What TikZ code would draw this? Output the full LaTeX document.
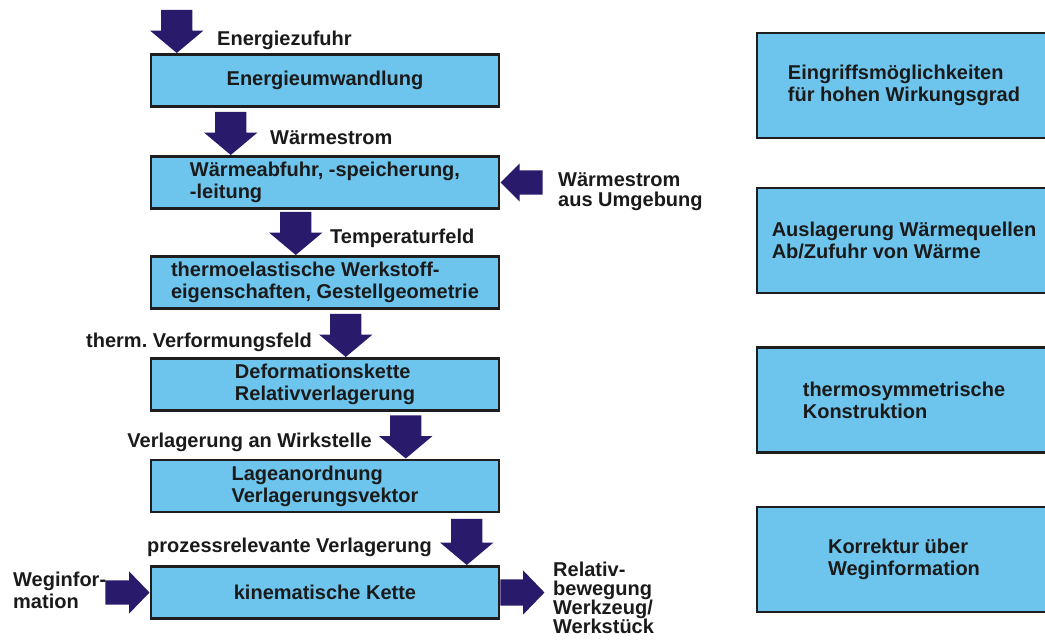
\documentclass[tikz,border=0pt]{standalone}
\usepackage{fontspec}
\setmainfont{Liberation Sans}
\usetikzlibrary{shapes.arrows,calc}
\definecolor{boxfill}{RGB}{109,197,238}
\definecolor{boxline}{RGB}{30,30,30}
\definecolor{arrowc}{RGB}{42,26,108}
\definecolor{txt}{RGB}{26,26,26}
\frenchspacing
\begin{document}
\begin{tikzpicture}[x=1pt,y=-1pt,
  every node/.style={font=\bfseries\fontsize{20}{22}\selectfont, text=txt},
  lbox/.style={draw=boxline, line width=2.5pt, fill=boxfill, minimum width=348, minimum height=52, align=left, inner sep=0},
  rbox/.style={draw=boxline, line width=2.5pt, fill=boxfill, minimum width=294, minimum height=105, align=left, inner sep=0},
  varrow/.style={single arrow, fill=arrowc, draw=none, inner xsep=0, inner ysep=15.5, minimum width=53, minimum height=43, single arrow head extend=11, single arrow tip angle=100, rotate=-90, anchor=tip},
  harrow/.style={single arrow, fill=arrowc, draw=none, inner xsep=0, inner ysep=12, minimum width=42, minimum height=44, single arrow head extend=9, single arrow tip angle=92},
  lbl/.style={inner sep=0, align=left},
  slbl/.style={inner sep=0}
]
\useasboundingbox (0,0) rectangle (1045,642);

% left chain boxes
\node[lbox] (b1) at (325,80.5) {Energieumwandlung};
\node[lbox] (b2) at (325,182.5) {Wärmeabfuhr, -speicherung,\\-leitung};
\node[lbox] (b3) at (325,282.5) {thermoelastische Werkstoff-\\eigenschaften, Gestellgeometrie};
\node[lbox] (b4) at (325,384.5) {Deformationskette\\Relativverlagerung};
\node[lbox] (b5) at (325,486) {Lageanordnung\\Verlagerungsvektor};
\node[lbox] (b6) at (325,592.5) {kinematische Kette};

% down arrows
\node[varrow] (a1) at ($(b1.north west)+(27,0)$) {};
\node[varrow] (a2) at ($(b2.north west)+(81,0)$) {};
\node[varrow] (a3) at ($(b3.north west)+(146,0)$) {};
\node[varrow] (a4) at ($(b4.north west)+(196,0)$) {};
\node[varrow] (a5) at ($(b5.north west)+(256,0)$) {};
\node[varrow, minimum height=46] (a6) at ($(b6.north west)+(317,0)$) {};

% side arrows
\node[harrow, minimum width=38, minimum height=42, single arrow head extend=7, single arrow tip angle=90, rotate=180, anchor=tip] (ar) at (b2.east) {};
\node[harrow, anchor=tip] (aw) at (b6.west) {};
\node[harrow, inner ysep=13, minimum width=44, anchor=tail] (ao) at (b6.east) {};

% labels
\node[slbl, anchor=base west] (l1) at (217,46) {Energiezufuhr};
\node[slbl, anchor=base west] (l2) at (270,144) {Wärmestrom};
\node[slbl, anchor=base west] (l3) at (330,243) {Temperaturfeld};
\node[slbl, anchor=base east] (l4) at (312,347) {therm. Verformungsfeld};
\node[slbl, anchor=base east] (l5) at (372,447) {Verlagerung an Wirkstelle};
\node[slbl, anchor=base east] (l6) at (432,552) {prozessrelevante Verlagerung};
\node[lbl, anchor=north west, font=\bfseries\fontsize{20}{20}\selectfont] (l7) at (558,172) {Wärmestrom\\aus Umgebung};
\node[lbl, anchor=north west] (l8) at (13,572) {Weginfor-\\mation};
\node[lbl, anchor=north west, font=\bfseries\fontsize{20}{19}\selectfont] (l9) at (553,562) {Relativ-\\bewegung\\Werkzeug/\\Werkstück};

% right boxes
\node[rbox] (r1) at (904,85.5) {Eingriffsmöglichkeiten\\für hohen Wirkungsgrad};
\node[rbox] (r2) at (904,240.5) {Auslagerung Wärmequellen\\Ab/Zufuhr von Wärme};
\node[rbox] (r3) at (904,400) {thermosymmetrische\\Konstruktion};
\node[rbox] (r4) at (904,559.5) {Korrektur über\\Weginformation};
\end{tikzpicture}
\end{document}
